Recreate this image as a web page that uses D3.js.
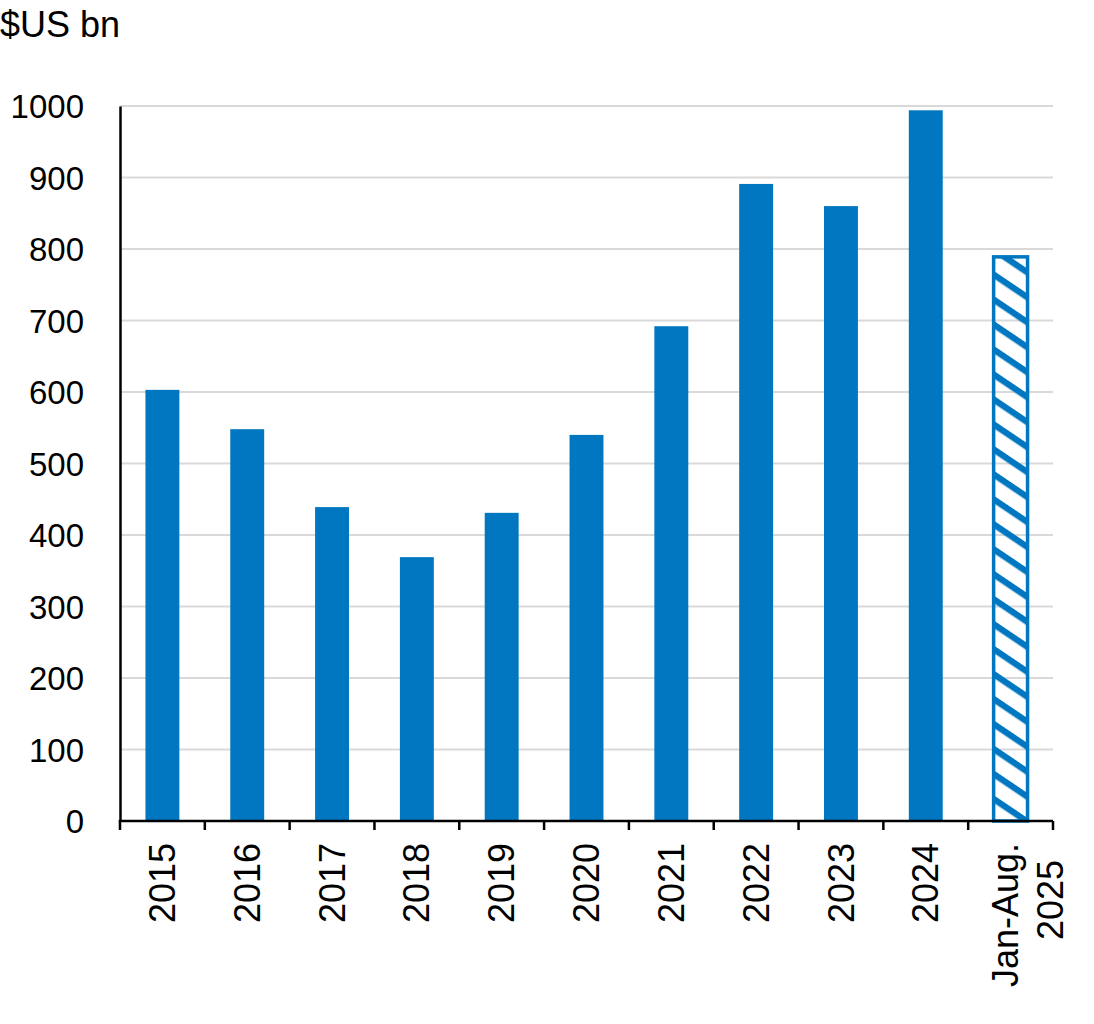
<!DOCTYPE html>
<html>
<head>
<meta charset="utf-8">
<script src="https://cdn.jsdelivr.net/npm/d3@7"></script>
<style>
  body { margin: 0; background: #fff; }
  text { font-family: "Liberation Sans", Arial, sans-serif; fill: #000; }
</style>
</head>
<body>
<div id="chart"></div>
<script>
var years = ["2015", "2016", "2017", "2018", "2019", "2020", "2021", "2022", "2023", "2024", "Jan-Aug.|2025"];
var values = [603, 548, 439, 369, 431, 540, 692, 891, 860, 994, 789];
var partial = [false, false, false, false, false, false, false, false, false, false, true];
var yTicks = [0, 100, 200, 300, 400, 500, 600, 700, 800, 900, 1000];

var blue = "#0077c0";
var fontSize = "33px";
var bigFont = "36px";

var margin = { top: 106, right: 41, bottom: 203, left: 120 },
    width = 1094 - margin.left - margin.right,
    height = 1024 - margin.top - margin.bottom;

var svg = d3.select("#chart")
    .append("svg")
    .attr("width", 1094)
    .attr("height", 1024);

// hatch for the partial year
var defs = svg.append("defs");
var pat = defs.append("pattern")
    .attr("id", "hatch")
    .attr("patternUnits", "userSpaceOnUse")
    .attr("width", 10)
    .attr("height", 20.7)
    .attr("patternTransform", "rotate(34)");
pat.append("rect")
    .attr("width", 10)
    .attr("height", 6.3)
    .attr("fill", blue);

var g = svg.append("g")
    .attr("transform", "translate(" + margin.left + "," + margin.top + ")");

var x = d3.scaleBand()
    .domain(years)
    .range([0, width])
    .paddingInner(0.6)
    .paddingOuter(0.3);

var y = d3.scaleLinear()
    .domain([0, 1000])
    .range([height, 0]);

// gridlines
g.append("g")
    .selectAll("line")
    .data(yTicks.filter(d => d > 0))
    .enter()
    .append("line")
    .attr("x1", 0)
    .attr("x2", width)
    .attr("y1", d => y(d))
    .attr("y2", d => y(d))
    .attr("stroke", "#d9d9d9")
    .attr("stroke-width", 2);

// bars
g.selectAll("whatever")
    .data(years)
    .enter()
    .append("rect")
    .attr("x", d => x(d))
    .attr("y", (d, i) => y(values[i]))
    .attr("width", x.bandwidth())
    .attr("height", (d, i) => height - y(values[i]))
    .attr("fill", (d, i) => partial[i] ? "url(#hatch)" : blue)
    .attr("stroke", (d, i) => partial[i] ? blue : "none")
    .attr("stroke-width", 3.5);

// y axis
var yAxis = g.append("g")
    .call(d3.axisLeft(y).tickValues(yTicks).tickFormat(d3.format("d")).tickSize(0).tickPadding(36));
yAxis.select(".domain").attr("stroke", "#000").attr("stroke-width", 2.5);
yAxis.selectAll("text")
    .style("font-size", fontSize)
    .style("font-family", "Liberation Sans, Arial, sans-serif")
    .attr("dy", "0.35em");

// x axis
var band = width / years.length;
var xg = g.append("g")
    .attr("transform", "translate(0," + height + ")");
xg.append("line")
    .attr("x1", -1.25)
    .attr("x2", width)
    .attr("stroke", "#000")
    .attr("stroke-width", 2.5);
xg.selectAll(".tick")
    .data(d3.range(years.length + 1))
    .enter()
    .append("line")
    .attr("x1", d => d * band)
    .attr("x2", d => d * band)
    .attr("y1", 0)
    .attr("y2", 9)
    .attr("stroke", "#000")
    .attr("stroke-width", 2.5);

// x labels, rotated
years.forEach(function (d, i) {
    var lines = d.split("|");
    var cx = x(d) + x.bandwidth() / 2;
    var t = xg.append("text")
        .attr("transform", "translate(" + cx + ",22) rotate(-90)")
        .attr("text-anchor", "end")
        .style("font-size", bigFont);
    if (lines.length == 1) {
        t.append("tspan").attr("x", 0).attr("dy", "0.35em").text(lines[0]);
    } else {
        t.append("tspan").attr("x", 0).attr("y", -5).attr("dy", "0.35em").text(lines[0]);
        t.append("tspan").attr("x", -17).attr("y", 40).attr("dy", "0.35em").text(lines[1]);
    }
});

// unit label
svg.append("text")
    .attr("x", 0)
    .attr("y", 37)
    .style("font-size", bigFont)
    .text("$US bn");
</script>
</body>
</html>
